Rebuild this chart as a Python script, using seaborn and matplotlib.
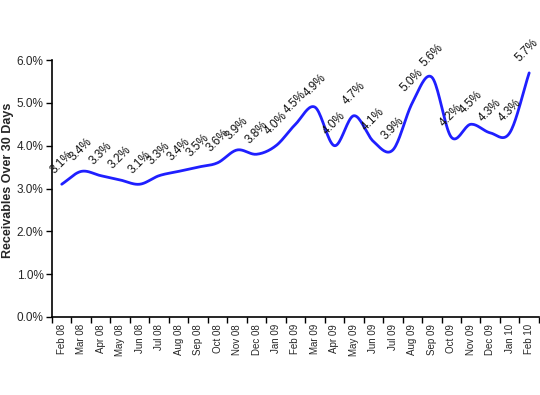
import numpy as np
import pandas as pd
import matplotlib
matplotlib.use("Agg")
import matplotlib.pyplot as plt
from matplotlib.ticker import FuncFormatter, FixedLocator
import seaborn as sns

months = ["Feb 08", "Mar 08", "Apr 08", "May 08", "Jun 08", "Jul 08", "Aug 08",
          "Sep 08", "Oct 08", "Nov 08", "Dec 08", "Jan 09", "Feb 09", "Mar 09",
          "Apr 09", "May 09", "Jun 09", "Jul 09", "Aug 09", "Sep 09", "Oct 09",
          "Nov 09", "Dec 09", "Jan 10", "Feb 10"]
values = [3.1, 3.4, 3.3, 3.2, 3.1, 3.3, 3.4, 3.5, 3.6, 3.9, 3.8, 4.0, 4.5, 4.9,
          4.0, 4.7, 4.1, 3.9, 5.0, 5.6, 4.2, 4.5, 4.3, 4.3, 5.7]
y_ticks = [0, 1, 2, 3, 4, 5, 6]
y_label = "Receivables Over 30 Days"

sns.set_style("white")
plt.rcParams["font.family"] = ["Liberation Sans", "DejaVu Sans"]

fig = plt.figure(figsize=(5.4, 3.95), dpi=100)
ax = fig.add_axes([0.0963, 0.1975, 0.9017, 0.6505])

# smoothed line (Catmull-Rom rendering through the monthly points)
px = np.arange(len(values), dtype=float)
py = np.array(values, dtype=float)
P = np.column_stack([px, py])
P_ext = np.vstack([P[0] - (P[1] - P[0]), P, P[-1] + (P[-1] - P[-2])])
t = np.linspace(0, 1, 20, endpoint=False)
seg = []
for i in range(1, len(P_ext) - 2):
    p0, p1, p2, p3 = P_ext[i - 1], P_ext[i], P_ext[i + 1], P_ext[i + 2]
    tt = t[:, None]
    c = 0.5 * ((2 * p1) + (-p0 + p2) * tt + (2 * p0 - 5 * p1 + 4 * p2 - p3) * tt ** 2
               + (-p0 + 3 * p1 - 3 * p2 + p3) * tt ** 3)
    seg.append(c)
seg.append(P[-1:])
curve = np.vstack(seg)
df = pd.DataFrame({"x": curve[:, 0], "y": curve[:, 1]})
sns.lineplot(data=df, x="x", y="y", ax=ax, color="#1f1fff", linewidth=2,
             sort=False, estimator=None)

n = len(values)
for i, v in enumerate(values):
    dx = -2 if i == n - 1 else 0
    ax.annotate(f"{v:.1f}%", (i, v), xytext=(dx, 6), textcoords="offset points",
                rotation=45, ha="center", va="bottom", fontsize=8.5, color="#111111")

ax.set_xlim(-0.5, len(months) - 0.5)
ax.set_ylim(0, 6)
ax.set_yticks(y_ticks)
ax.yaxis.set_major_formatter(FuncFormatter(lambda v, p: f"{v:.1f}%"))
ax.set_xticks(range(len(months)))
ax.set_xticklabels(months, rotation=90, fontsize=7)
ax.xaxis.set_minor_locator(FixedLocator(np.arange(-0.5, len(months), 1.0)))
ax.tick_params(axis="x", which="major", length=0, pad=5)
ax.tick_params(axis="x", which="minor", length=4, width=1, color="black", direction="out", bottom=True)
ax.tick_params(axis="y", which="major", length=4, width=1, color="black", direction="out",
               left=True, labelsize=8.5, pad=2)
for s in ["top", "right"]:
    ax.spines[s].set_visible(False)
for s in ["left", "bottom"]:
    ax.spines[s].set_color("black")
    ax.spines[s].set_linewidth(1.2)
ax.set_xlabel("")
ax.set_ylabel(y_label, fontsize=9, fontweight="bold")
ax.yaxis.set_label_coords(-0.079, 0.53)
ax.grid(False)

fig.savefig("out.png", dpi=100)
